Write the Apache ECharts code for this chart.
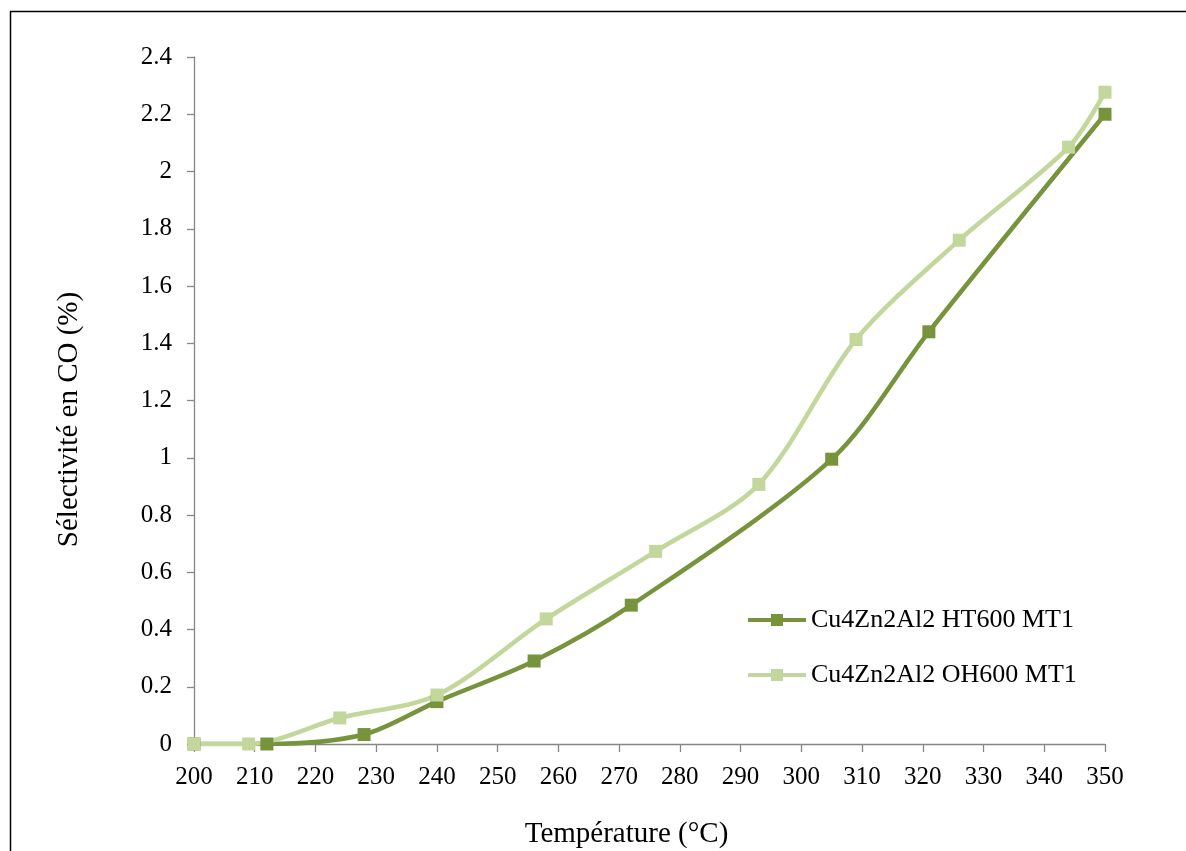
<!DOCTYPE html>
<html>
<head>
<meta charset="utf-8">
<script src="https://cdn.jsdelivr.net/npm/echarts@6/dist/echarts.min.js"></script>
<style>
html,body{margin:0;padding:0;background:#fff;}
#chart{width:1186px;height:851px;}
</style>
</head>
<body>
<div id="chart"></div>
<script>
const seriesNames = ['Cu4Zn2Al2 HT600 MT1', 'Cu4Zn2Al2 OH600 MT1'];
const htTemps = [200, 212, 228, 240, 256, 272, 305, 321, 350];
const htValues = [0, 0, 0.033, 0.148, 0.29, 0.485, 0.995, 1.44, 2.2];
const ohTemps = [200, 209, 224, 240, 258, 276, 293, 309, 326, 344, 350];
const ohValues = [0, 0, 0.091, 0.171, 0.437, 0.673, 0.907, 1.413, 1.76, 2.085, 2.277];
const xTitle = 'Température (°C)';
const yTitle = 'Sélectivité en CO (%)';

const FONT = "'Liberation Serif', 'Times New Roman', serif";
const zip = (xs, ys) => xs.map((x, i) => [x, ys[i]]);

const chart = echarts.init(document.getElementById('chart'), null, {renderer: 'canvas'});
chart.setOption({
  backgroundColor: '#ffffff',
  animation: false,
  textStyle: {fontFamily: FONT, color: '#000'},
  graphic: [{
    type: 'rect',
    shape: {x: 10.5, y: 11.5, width: 1300, height: 1000},
    style: {fill: 'none', stroke: '#000', lineWidth: 1.5},
    silent: true
  }],
  grid: {left: 194, right: 81, top: 57, bottom: 107, containLabel: false, outerBoundsMode: 'none'},
  legend: {
    orient: 'vertical',
    left: 741,
    top: 602,
    itemWidth: 58,
    itemHeight: 15,
    itemGap: 29,
    lineStyle: {width: 4},
    textStyle: {fontFamily: FONT, fontSize: 26, color: '#000'},
    data: seriesNames
  },
  xAxis: {
    type: 'value',
    min: 200, max: 350, interval: 10,
    name: xTitle,
    nameLocation: 'middle',
    nameGap: 76,
    nameTextStyle: {fontFamily: FONT, fontSize: 29, color: '#000', padding: [0, 46, 0, 0]},
    axisLine: {show: true, lineStyle: {color: '#868686', width: 1.3}},
    axisTick: {show: true, length: 8, lineStyle: {color: '#868686', width: 1.3}},
    axisLabel: {fontFamily: FONT, fontSize: 25, color: '#000', margin: 21},
    splitLine: {show: false}
  },
  yAxis: {
    type: 'value',
    min: 0, max: 2.4, interval: 0.2,
    name: yTitle,
    nameLocation: 'middle',
    nameGap: 110,
    nameTextStyle: {fontFamily: FONT, fontSize: 29, color: '#000', padding: [0, 38, 0, 0]},
    axisLine: {show: true, lineStyle: {color: '#868686', width: 1.3}},
    axisTick: {show: true, length: 7, lineStyle: {color: '#868686', width: 1.3}},
    axisLabel: {fontFamily: FONT, fontSize: 25, color: '#000', margin: 22},
    splitLine: {show: false}
  },
  series: [
    {
      name: seriesNames[0],
      type: 'line',
      data: zip(htTemps, htValues),
      smooth: 0.3,
      symbol: 'rect',
      symbolSize: 13,
      color: '#77933C',
      lineStyle: {color: '#77933C', width: 4.5},
      itemStyle: {color: '#77933C'}
    },
    {
      name: seriesNames[1],
      type: 'line',
      data: zip(ohTemps, ohValues),
      smooth: 0.3,
      symbol: 'rect',
      symbolSize: 13,
      color: '#C3D69B',
      lineStyle: {color: '#C3D69B', width: 4.5},
      itemStyle: {color: '#C3D69B'}
    }
  ]
});
</script>
</body>
</html>
